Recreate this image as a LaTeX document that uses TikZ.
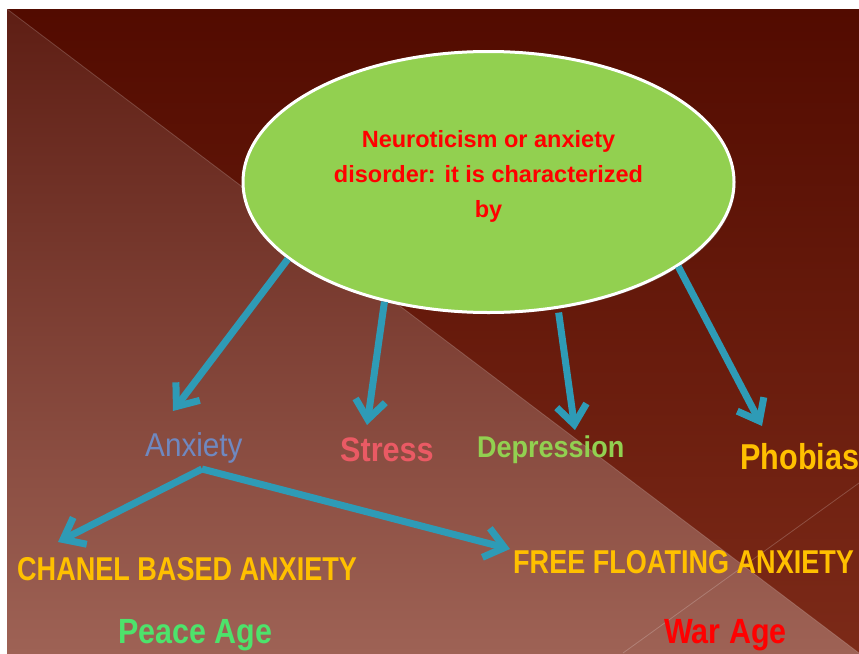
\documentclass[tikz,border=0pt]{standalone}
\usepackage{fontspec}
\setmainfont{Liberation Sans}
\usepackage{graphicx}
\usetikzlibrary{shapes,arrows.meta,positioning,calc,shadows}
\definecolor{bgtop}{HTML}{5E1E14}
\definecolor{bgmid}{HTML}{6E2211}
\definecolor{bgbot}{HTML}{9E6255}
\definecolor{darktop}{HTML}{520B00}
\definecolor{darkbot}{HTML}{7C2A18}
\definecolor{arrowblue}{HTML}{2E9BB6}
\definecolor{bubblegreen}{HTML}{92D050}
\definecolor{gold}{HTML}{FFC000}
\definecolor{anxblue}{HTML}{6F88C0}
\definecolor{stressred}{HTML}{EA5A64}
\definecolor{peacegreen}{HTML}{4DE36B}
\newcommand{\narrowtext}[2]{\scalebox{#1}[1]{#2}} % squeezes a word sideways
\tikzset{
	x=1pt, y=-1pt, % one unit is one pixel of the slide, y runs downwards
	link/.style={draw=arrowblue, line width=7pt, -{Straight Barb[length=19pt,width=30pt]}}, % the blue arrows
	bubble/.style={ellipse, draw=white, line width=3pt, fill=bubblegreen, minimum width=491pt, minimum height=261pt, inner sep=0pt,
		drop shadow={shadow xshift=1.5pt, shadow yshift=-1.5pt, opacity=0.45}},
	word/.style={anchor=base west, inner sep=0pt}, % placed by its baseline
	seam/.style={draw=white, draw opacity=0.2, line width=0.8pt},
}

\begin{document}
\begin{tikzpicture}
	\useasboundingbox (0,0) rectangle (859,653);
	% background of the slide
	\shade[top color=bgtop, middle color=bgmid, bottom color=bgbot] (7,9) rectangle (859,653);
	\shade[top color=darktop, bottom color=darkbot] (7,9) -- (859,9) -- (859,653) -- cycle;
	\draw[seam] (7,9) -- (859,653);
	\draw[seam] (623,653) -- (859,483);

	\node[bubble] (main) at (488.5,182) {};
	\node[align=center, text=red, font=\bfseries\fontsize{23.5}{35}\selectfont] (maintext) at (488.5,176) {Neuroticism or anxiety\\disorder: it is characterized\\by};

	\node[word, text=anxblue, font=\fontsize{33}{36}\selectfont] (anx) at (145,456) {\narrowtext{0.9}{Anxiety}};
	\node[word, text=stressred, font=\bfseries\fontsize{34}{36}\selectfont] (stress) at (340,461) {\narrowtext{0.9}{Stress}};
	\node[word, text=bubblegreen, font=\bfseries\fontsize{30}{36}\selectfont] (depr) at (477,457) {\narrowtext{0.9}{Depression}};
	\node[word, text=gold, font=\bfseries\fontsize{36}{40}\selectfont] (phob) at (740,469) {\narrowtext{0.85}{Phobias}};
	\node[word, text=gold, font=\bfseries\fontsize{33}{36}\selectfont] (chanel) at (17,580) {\narrowtext{0.82}{CHANEL BASED ANXIETY}};
	\node[word, text=gold, font=\bfseries\fontsize{33}{36}\selectfont] (free) at (513,573) {\narrowtext{0.82}{FREE FLOATING ANXIETY}};
	\node[word, text=peacegreen, font=\bfseries\fontsize{35}{38}\selectfont] (peace) at (118,643) {\narrowtext{0.87}{Peace Age}};
	\node[word, text=red, font=\bfseries\fontsize{35}{38}\selectfont] (war) at (664,643) {\narrowtext{0.87}{War Age}};

	\coordinate (split) at ([shift={(57,13)}]anx.base west);

	\draw[link] (main.-159) -- ([shift={(28,-45)}]anx.base west);
	\draw[link] (main.-131) -- ([shift={(27,-36)}]stress.base west);
	\draw[link] ([yshift=-4pt]main.-61) -- ([shift={(98,-27)}]depr.base west);
	\draw[link] (main.-24) -- ([shift={(22,-43)}]phob.base west);
	\draw[link] (split) -- ([shift={(41,-38)}]chanel.base west);
	\draw[link] (split) -- ([shift={(-3,-24)}]free.base west);
\end{tikzpicture}
\end{document}
